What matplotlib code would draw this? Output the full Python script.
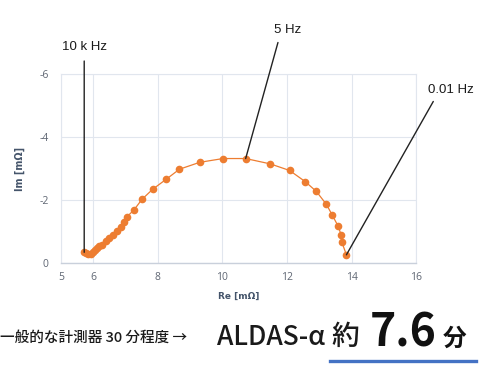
import matplotlib.pyplot as plt
from matplotlib.lines import Line2D

# Nyquist plot data (Re, Im in mΩ)
re_mohm = [5.72, 5.78, 5.85, 5.92, 5.98, 6.05, 6.12, 6.18, 6.28, 6.38, 6.50,
           6.62, 6.74, 6.85, 6.95, 7.05, 7.26, 7.51, 7.84, 8.26, 8.67, 9.30,
           10.02, 10.72, 11.48, 12.08, 12.57, 12.91, 13.22, 13.40, 13.58,
           13.68, 13.70, 13.84]
im_mohm = [-0.33, -0.30, -0.28, -0.29, -0.33, -0.40, -0.48, -0.52, -0.57,
           -0.68, -0.78, -0.88, -1.02, -1.15, -1.31, -1.47, -1.68, -2.02,
           -2.34, -2.66, -2.98, -3.20, -3.32, -3.32, -3.15, -2.94, -2.58,
           -2.27, -1.86, -1.52, -1.17, -0.88, -0.65, -0.25]

x_ticks = [5, 6, 8, 10, 12, 14, 16]
y_ticks = [0, -2, -4, -6]

# frequency labels and the index of the point they mark
freq_labels = ['10 k Hz', '5 Hz', '0.01 Hz']
freq_index = [0, 23, 33]

ORANGE = '#ED7D31'
TICK_COLOR = '#5f6673'
GRID_COLOR = '#e1e6ee'

fig = plt.figure(figsize=(4.8, 3.84), dpi=100)
ax = fig.add_axes([0.127, 0.316, 0.740, 0.490])

ax.plot(re_mohm, im_mohm, color=ORANGE, lw=0.9, marker='o',
        markersize=5.5, markeredgewidth=0, zorder=3)

ax.set_xlim(5, 16)
ax.set_ylim(0, -6)
ax.set_xticks(x_ticks)
ax.set_yticks(y_ticks)
ax.set_xticklabels([str(t) for t in x_ticks])
ax.set_yticklabels([str(t) for t in y_ticks])
ax.tick_params(length=0, labelsize=7.5, labelcolor=TICK_COLOR, pad=7)
ax.tick_params(axis='y', pad=9)
for lab in ax.get_xticklabels() + ax.get_yticklabels():
    lab.set_family(['Open Sans', 'DejaVu Sans'])

ax.grid(True, color=GRID_COLOR, lw=0.8)
ax.set_axisbelow(True)
for side in ['top', 'right', 'left']:
    ax.spines[side].set_color(GRID_COLOR)
    ax.spines[side].set_linewidth(0.8)
ax.spines['bottom'].set_color('#c9d0db')
ax.spines['bottom'].set_linewidth(1.0)

ax.set_xlabel('Re [mΩ]', fontsize=6.5, fontweight='bold', color='#44546A',
              labelpad=6)
ax.set_ylabel('Im [mΩ]', fontsize=7, fontweight='bold', color='#44546A',
              labelpad=10)

# leader lines from the frequency points up to their labels
line_ends = [(None, -6.43), (11.72, -7.02), (16.53, -5.14)]
label_pos = [(0.177, 0.878), (0.599, 0.922), (0.940, 0.766)]
for lab, idx, end, pos in zip(freq_labels, freq_index, line_ends, label_pos):
    px, py = re_mohm[idx], im_mohm[idx]
    ex = px if end[0] is None else end[0]
    ax.annotate('', xy=(px, py), xytext=(ex, end[1]),
                arrowprops=dict(arrowstyle='-', color='#222222', lw=1.0,
                                shrinkA=0, shrinkB=0),
                annotation_clip=False, zorder=4)
    fig.text(pos[0], pos[1], lab, ha='center', va='center', fontsize=9.5,
             family=['Liberation Sans', 'DejaVu Sans'], color='#1a1a1a')

# caption under the chart
cjk = ['Noto Sans CJK JP', 'DejaVu Sans']
fig.text(0.0, 0.109, '一般的な計測器 30 分程度 →', fontsize=10.5,
         family=cjk, fontweight='medium', color='#1a1a1a',
         va='baseline', ha='left')
fig.text(0.452, 0.102, 'ALDAS-α', fontsize=19, family=cjk,
         fontweight='medium', color='#1a1a1a', va='baseline', ha='left')
fig.text(0.690, 0.102, '約', fontsize=20, family=cjk, fontweight='medium',
         color='#1a1a1a', va='baseline', ha='left')
fig.text(0.770, 0.097, '7.6', fontsize=32, family=cjk, fontweight='bold',
         color='#111111', va='baseline', ha='left')
fig.text(0.922, 0.099, '分', fontsize=17, family=cjk, fontweight='bold',
         color='#111111', va='baseline', ha='left')
fig.add_artist(Line2D([0.6875, 0.992], [0.060, 0.060], color='#4472C4',
                      lw=2.4, transform=fig.transFigure))

fig.savefig('out.png', dpi=100)
